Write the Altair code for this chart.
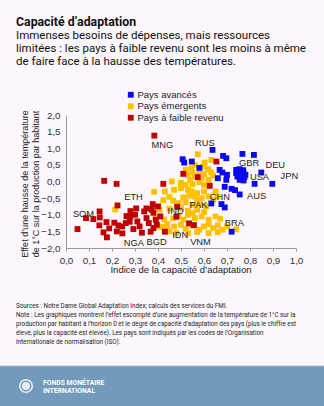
import altair as alt
import pandas as pd

# ---------------- data ----------------
adv_x = [0.507, 0.514, 0.547, 0.58, 0.637, 0.683, 0.697, 0.767, 0.817, 0.668, 0.68, 0.70, 0.697, 0.66,
         0.74, 0.755, 0.77, 0.74, 0.755, 0.772, 0.745, 0.76, 0.78, 0.755, 0.772, 0.776,
         0.849, 0.82, 0.897, 0.69, 0.72, 0.735, 0.755, 0.632, 0.676, 0.69, 0.72]
adv_y = [0.67, 0.57, 0.60, 0.41, 0.95, 0.77, 0.70, 0.83, 0.80, 0.35, 0.27, 0.20, 0.05, 0.10,
         0.35, 0.37, 0.34, 0.25, 0.26, 0.27, 0.15, 0.17, 0.20, 0.05, 0.03, 0.13,
         0.27, -0.07, -0.07, -0.16, -0.22, -0.26, -0.39, -0.66, -0.68, -0.78, -1.51]

emg_x = [0.573, 0.632, 0.603, 0.596, 0.618, 0.56, 0.545, 0.52, 0.55, 0.58, 0.60, 0.53, 0.56, 0.59,
         0.63, 0.64, 0.62, 0.54, 0.46, 0.50, 0.52, 0.55, 0.58, 0.60, 0.383,
         0.43, 0.47, 0.50, 0.53, 0.546, 0.57, 0.60, 0.65, 0.535, 0.51, 0.56, 0.59, 0.62, 0.64,
         0.57, 0.449, 0.423, 0.466, 0.49, 0.52, 0.55, 0.58, 0.61, 0.406, 0.45, 0.50, 0.53,
         0.57, 0.60, 0.214,
         0.39, 0.427, 0.466, 0.49, 0.51, 0.53, 0.56, 0.59, 0.62, 0.65, 0.67, 0.40, 0.44,
         0.47, 0.50, 0.52, 0.55, 0.58, 0.60, 0.62, 0.64, 0.66, 0.68, 0.70, 0.74, 0.45, 0.48,
         0.53, 0.57, 0.62, 0.66, 0.42, 0.44, 0.55, 0.66]
emg_y = [0.82, 0.65, 0.57, 0.45, 0.37, 0.50, 0.40, 0.35, 0.28, 0.30, 0.22, 0.20, 0.15, 0.10,
         0.28, 0.18, 0.05, 0.05, 0.00, -0.04, -0.10, -0.08, -0.02, -0.10, -0.31,
         -0.30, -0.25, -0.20, -0.25, -0.30, -0.35, -0.30, -0.30, -0.43, -0.48, -0.45, -0.50,
         -0.45, -0.55, -0.55, -0.46, -0.56, -0.58, -0.65, -0.62, -0.70, -0.68, -0.75, -0.85,
         -0.82, -0.80, -0.88, -0.85, -0.92, -0.84,
         -1.10, -1.14, -1.11, -1.04, -1.15, -1.00, -1.10, -1.05, -1.15, -1.05, -1.12, -1.35,
         -1.28, -1.35, -1.30, -1.42, -1.33, -1.45, -1.35, -1.28, -1.40, -1.32, -1.45, -1.35,
         -1.44, -1.50, -1.55, -1.55, -1.52, -1.55, -1.52, -1.37, -1.44, -0.95, -0.45]

low_x = [0.05, 0.087, 0.119, 0.146, 0.147, 0.145, 0.163, 0.178, 0.176, 0.188, 0.166, 0.22,
         0.224, 0.21, 0.228, 0.245, 0.263, 0.28, 0.277, 0.293, 0.244, 0.221, 0.26, 0.28,
         0.30, 0.31, 0.32, 0.33, 0.34, 0.35, 0.368, 0.36, 0.305, 0.35, 0.377, 0.373, 0.38,
         0.38, 0.39, 0.41, 0.423, 0.384, 0.51, 0.573, 0.654, 0.625, 0.483, 0.48, 0.43,
         0.535, 0.556, 0.40, 0.395]
low_y = [-1.43, -1.10, -1.13, -0.90, -1.08, -1.32, -1.53, -1.68, -1.22, -1.41, 0.02, -0.07,
         -0.72, -1.24, -1.32, -1.56, -1.04, -0.89, -1.21, -1.43, -1.35, -1.50, -1.25, -1.05,
         -1.00, -1.20, -1.35, -1.54, -0.90, -1.10, -1.51, -1.25, -0.81, -0.81, -0.68, -0.85,
         -0.94, -1.40, -1.15, -1.05, -0.07, 1.38, 0.23, 0.13, 0.60, -0.13, -0.76, -1.06,
         -1.51, -1.26, -1.31, -0.75, -1.30]

groups = ["Pays avancés", "Pays émergents", "Pays à faible revenu"]
colors = ["#0a0aeb", "#ffc000", "#c00000"]

# labelled countries: code, x, y, dx, dy
lab_code = ["MNG", "RUS", "GBR", "DEU", "USA", "JPN", "AUS", "CHN", "IND", "PAK", "IDN",
            "VNM", "BRA", "ETH", "SOM", "NGA", "BGD"]
lab_x = [0.384, 0.573, 0.77, 0.849, 0.776, 0.897, 0.755, 0.66, 0.42, 0.55, 0.44, 0.55,
         0.68, 0.224, 0.05, 0.33, 0.368]
lab_y = [1.38, 0.82, 0.34, 0.27, 0.13, -0.07, -0.39, -0.45, -1.37, -0.95, -1.44, -1.33,
         -1.25, -0.72, -1.43, -1.54, -1.51]
lab_dx = [8, 7, 6, 14, 15, 17, 17, 2, 13, 6, 13, 8, 12, 16, 6, -8, 6]
lab_dy = [9, -11, -7, -8, 0, -8, 2, 1, -16, -8, 6, 16, 0, -8, -15, 10, 10]

title = "Capacité d’adaptation"
subtitle = ["Immenses besoins de dépenses, mais ressources",
            "limitées : les pays à faible revenu sont les moins à même",
            "de faire face à la hausse des températures."]
y_title = ["Effet d’une hausse de la température", "de 1°C sur la production par habitant"]
x_title = "Indice de la capacité d’adaptation"
notes = ["Sources : Notre Dame Global Adaptation Index; calculs des services du FMI.",
         "Note : Les graphiques montrent l’effet escompté d’une augmentation de la température de 1°C sur la",
         "production par habitant à l’horizon 0 et le degré de capacité d’adaptation des pays (plus le chiffre est",
         "élevé, plus la capacité est élevée). Les pays sont indiqués par les codes de l’Organisation",
         "internationale de normalisation (ISO)."]
footer = ["FONDS MONÉTAIRE", "INTERNATIONAL"]
x_ticks = [0.0, 0.1, 0.2, 0.3, 0.4, 0.5, 0.6, 0.7, 0.8, 0.9, 1.0]
y_ticks = [-2.0, -1.5, -1.0, -0.5, 0.0, 0.5, 1.0, 1.5, 2.0]

# ---------------- build ----------------
df = pd.concat([
    pd.DataFrame({"x": emg_x, "y": emg_y, "g": groups[1]}),
    pd.DataFrame({"x": adv_x, "y": adv_y, "g": groups[0]}),
    pd.DataFrame({"x": low_x, "y": low_y, "g": groups[2]}),
], ignore_index=True)

FONT = "Liberation Sans"
W, H = 230, 133
BG = "#fcf7fc"

lbl_expr = "replace(format(datum.value, '.1f'), '.', ',')"

xenc = alt.X("x:Q", scale=alt.Scale(domain=[0, 1], nice=False),
             axis=alt.Axis(values=x_ticks, labelExpr=lbl_expr, title=None, grid=False,
                           domainColor="#999999", tickColor="#999999", tickSize=3,
                           labelFontSize=9.8, labelColor="#333333", labelFont=FONT,
                           labelPadding=4, labelOverlap=False, labelFlush=False))
yenc = alt.Y("y:Q", scale=alt.Scale(domain=[-2, 2], nice=False),
             axis=alt.Axis(values=y_ticks, labelExpr=lbl_expr, title=None, grid=False,
                           domainColor="#999999", ticks=False,
                           labelFontSize=9.8, labelColor="#333333", labelFont=FONT,
                           labelPadding=6, labelOverlap=False, labelFlush=False))

points = alt.Chart(df).mark_square(size=34, opacity=1).encode(
    x=xenc, y=yenc,
    color=alt.Color("g:N", scale=alt.Scale(domain=groups, range=colors),
                    legend=alt.Legend(title=None, orient="none", legendX=60, legendY=-25,
                                      symbolType="square", symbolSize=34, symbolStrokeWidth=0,
                                      labelFontSize=9.5, labelFont=FONT, labelColor="#222222",
                                      rowPadding=0.5, labelOffset=2, symbolOpacity=1)),
    order=alt.Order("idx:Q"),
).transform_window(idx="row_number()")

layers = [points]

for c, lx, ly, dx, dy in zip(lab_code, lab_x, lab_y, lab_dx, lab_dy):
    layers.append(
        alt.Chart(pd.DataFrame({"x": [lx], "y": [ly], "t": [c]})).mark_text(
            dx=dx, dy=dy, fontSize=9.3, font=FONT, color="#222222", align="center",
            baseline="middle").encode(x=xenc, y=yenc, text="t:N")
    )

one = alt.Data(values=[{}])

def txt(text, x, y, **kw):
    return alt.Chart(one).mark_text(**kw).encode(
        x=alt.value(x), y=alt.value(y), text=alt.value(text))

layers += [
    txt(title, -50, -89, font="Roboto", fontSize=12.3, fontWeight="bold", color="#111111",
        align="left", baseline="alphabetic"),
    txt(subtitle, -50, -76.5, font="Roboto", fontSize=11.5, color="#111111", align="left",
        baseline="alphabetic", lineHeight=13.4),
    txt(y_title, -41, 69, font=FONT, fontSize=9, color="#222222", align="center",
        baseline="middle", angle=270, lineHeight=11),
    txt(x_title, 115, 158, font=FONT, fontSize=9.5, color="#222222", align="center",
        baseline="alphabetic"),
    txt(notes, -50, 193, font="Roboto", fontSize=6.3, color="#222222", align="left",
        baseline="alphabetic", lineHeight=8.9),
    alt.Chart(one).mark_rect(color="#7399bb").encode(
        x=alt.value(-66), x2=alt.value(258), y=alt.value(251), y2=alt.value(291)),
    alt.Chart(one).mark_rule(color="#a9c1d7", strokeWidth=1).encode(
        x=alt.value(-66), x2=alt.value(258), y=alt.value(251)),
    alt.Chart(one).mark_point(shape="circle", size=200, filled=True, color="#e8eef5",
                              opacity=1).encode(x=alt.value(-40), y=alt.value(271)),
    alt.Chart(one).mark_point(shape="circle", size=90, filled=False, color="#7399bb",
                              strokeWidth=1.5, opacity=1).encode(x=alt.value(-40), y=alt.value(271)),
    txt(footer, -23, 268, font="Roboto", fontSize=6.8, fontWeight="bold", color="#ffffff",
        align="left", baseline="middle", lineHeight=8),
]

chart = alt.layer(*layers).properties(
    width=W, height=H, background=BG,
    padding={"left": 66, "top": 115, "right": 28, "bottom": 158},
    autosize=alt.AutoSizeParams(type="none"),
).configure_view(stroke=None)

chart.save("out.html", embed_options={"renderer": "svg", "actions": False})
